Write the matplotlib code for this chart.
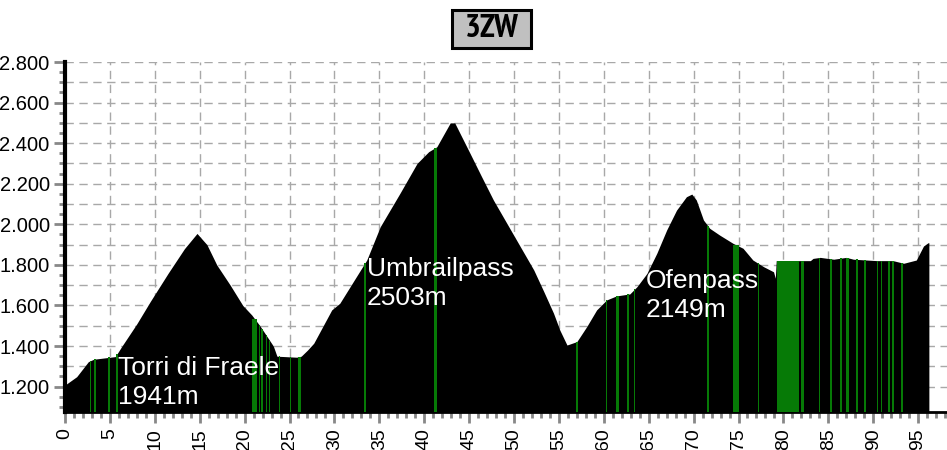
import numpy as np
import matplotlib
matplotlib.use('Agg')
import matplotlib.pyplot as plt
import matplotlib.font_manager as fm
from matplotlib.patches import Rectangle
from matplotlib.ticker import MultipleLocator

plt.rcParams['font.family'] = ['Liberation Sans', 'DejaVu Sans']

# elevation profile (km, m)
km = [0, 1.3, 2.6, 3.2, 4.5, 5.6, 6.3, 8.0, 9.5, 11.5, 13.3, 14.7,
      15.8, 16.9, 18.4, 19.8, 20.8, 21.7, 23.2, 23.6, 25.8, 26.3, 27.0, 27.7,
      29.7, 30.6, 33.6, 35.1, 37.3, 39.2, 40.5, 41.4, 42.9, 43.4,
      45.1, 46.4, 47.7, 49.2, 50.7, 52.2, 53.3, 54.4, 55.1, 55.9,
      57.0, 58.1, 59.2, 60.3, 61.4, 62.9, 63.7, 64.8, 65.9, 67.0, 68.1, 69.2, 69.8,
      70.3, 71.1, 71.8, 72.9, 74.4, 75.5, 76.6, 77.8, 78.9, 79.1, 79.2,
      83.0, 83.3, 84.1, 85.6, 87.0, 87.8, 90.4, 92.2, 93.4, 94.8, 95.6, 96.1, 96.2]
elev = [1208, 1249, 1323, 1335, 1342, 1348, 1397, 1510, 1620, 1760, 1880, 1955,
        1900, 1800, 1700, 1600, 1553, 1500, 1400, 1350, 1345, 1350, 1380, 1414,
        1578, 1611, 1824, 1988, 2153, 2300, 2358, 2382, 2500, 2500,
        2350, 2234, 2120, 2005, 1890, 1775, 1670, 1562, 1479, 1405,
        1422, 1496, 1578, 1627, 1647, 1657, 1693, 1758, 1857, 1972, 2070, 2136, 2149,
        2120, 2021, 1980, 1947, 1906, 1882, 1824, 1791, 1766, 1734, 1821,
        1821, 1832, 1837, 1828, 1837, 1828, 1821, 1821, 1808, 1824, 1893, 1909, 1909]

# green sections (start km, length km)
green_start = [2.78, 3.28, 4.83, 5.73, 20.85, 21.58, 21.88, 22.33, 22.73, 23.83, 25.03, 25.95,
               33.3, 41.1, 56.93, 60.23, 61.4, 62.63, 63.33, 71.53, 74.4, 77.13, 79.3, 82.0,
               83.93, 85.23, 86.33, 87.0, 88.05, 89.03, 90.43, 90.83, 91.6, 92.13, 93.13]
green_len = [0.15, 0.15, 0.15, 0.15, 0.5, 0.15, 0.15, 0.15, 0.15, 0.15, 0.15, 0.3,
             0.2, 0.3, 0.15, 0.15, 0.3, 0.15, 0.15, 0.15, 0.7, 0.15, 2.45, 0.3,
             0.15, 0.15, 0.15, 0.3, 0.3, 0.15, 0.15, 0.15, 0.3, 0.15, 0.15]

pass_names = ['Torri di Fraele', 'Umbrailpass', 'Ofenpass']
pass_heights = ['1941m', '2503m', '2149m']

x_ticks = list(range(0, 96, 5))
y_ticks = [1200, 1400, 1600, 1800, 2000, 2200, 2400, 2600, 2800]
y_labels = ['1.200', '1.400', '1.600', '1.800', '2.000', '2.200', '2.400', '2.600', '2.800']

ymin = 1075
fig = plt.figure(figsize=(9.47, 4.5), dpi=100)
ax = fig.add_axes([65/947, 38/450, 882/947, 350/450])
ax.set_xlim(0, 882/8.98)
ax.set_ylim(ymin, 2800)

# dashed grid
for v in range(1200, 2801, 100):
    ax.axhline(v, color='#a8a8a8', lw=1, ls=(0, (6, 4)), zorder=0)
for v in range(5, 96, 5):
    ax.axvline(v, color='#a8a8a8', lw=1, ls=(0, (6, 4)), zorder=0)

ax.fill_between(km, elev, ymin, color='black', lw=0, zorder=2)

gs = np.array(green_start)
gl = np.array(green_len)
tops = np.interp(gs + gl / 2, km, elev)
ax.bar(gs, tops - ymin, width=gl, bottom=ymin, align='edge', color='#067a06', lw=0, zorder=3)

# pass labels
pos = [(5.9, 1258, 1115), (33.6, 1745, 1602), (64.7, 1686, 1543)]
for (x, y1, y2), n, h in zip(pos, pass_names, pass_heights):
    ax.text(x, y1, n, color='white', fontsize=19, va='baseline', zorder=5)
    ax.text(x, y2, h, color='white', fontsize=19, va='baseline', zorder=5)

ax.set_xticks(x_ticks)
ax.set_xticklabels([str(t) for t in x_ticks], rotation=90)
ax.xaxis.set_minor_locator(MultipleLocator(1))
ax.set_yticks(y_ticks)
ax.set_yticklabels(y_labels)
ax.yaxis.set_minor_locator(MultipleLocator(50))
ax.tick_params(which='both', direction='out', color='#888888', width=2)
ax.tick_params(which='major', length=8, pad=3)
ax.tick_params(axis='y', labelsize=14.5)
ax.tick_params(axis='x', which='major', pad=3.5, labelsize=14)
ax.tick_params(which='minor', length=4)

for s in ['top', 'right']:
    ax.spines[s].set_visible(False)
ax.spines['left'].set_linewidth(3)
ax.spines['bottom'].set_linewidth(2)

# title box with a narrow bold font if one is installed
title_font = fm.FontProperties(family='Liberation Sans', weight='bold', size=19)
for f in fm.fontManager.ttflist:
    if 'Narrow' in f.name and 'Bold' in f.fname and 'Italic' not in f.fname:
        title_font = fm.FontProperties(fname=f.fname, size=24)
        break
fig.patches.append(Rectangle((452/947, 1 - 48/450), 79/947, 38/450, transform=fig.transFigure,
                             fc='#c0c0c0', ec='black', lw=2.2))
fig.text(491.5/947, 1 - 29/450, '3ZW', ha='center', va='center', fontproperties=title_font)

fig.savefig('out.png', dpi=100)
